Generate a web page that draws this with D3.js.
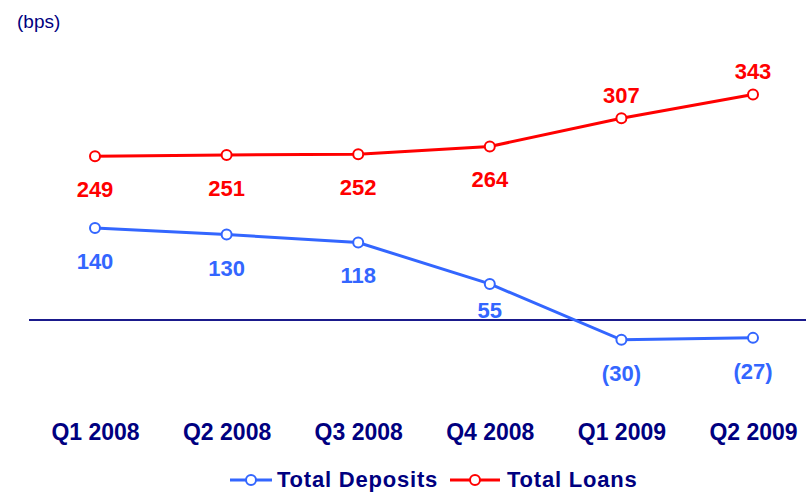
<!DOCTYPE html>
<html>
<head>
<meta charset="utf-8">
<script src="https://cdn.jsdelivr.net/npm/d3@7"></script>
<style>
  body { margin: 0; background: #fff; }
  svg { font-family: "Liberation Sans", Arial, sans-serif; }
</style>
</head>
<body>
<div id="chart"></div>
<script>
var quarters = ["Q1 2008", "Q2 2008", "Q3 2008", "Q4 2008", "Q1 2009", "Q2 2009"];
var deposits = [140, 130, 118, 55, -30, -27];
var loans = [249, 251, 252, 264, 307, 343];
var seriesNames = ["Total Deposits", "Total Loans"];

var navy = "#000080";
var blue = "#3366FF";
var red = "#FF0000";

var svg = d3.select("#chart")
    .append("svg")
    .attr("width", 806)
    .attr("height", 492);

var x = d3.scalePoint().domain(quarters).range([95, 753]);
var y = d3.scaleLinear().domain([-50, 400]).range([353, 57]);

// unit label
svg.append("text")
    .attr("x", 17)
    .attr("y", 28)
    .attr("fill", navy)
    .style("font-size", "19px")
    .text("(bps)");

// zero line
svg.append("line")
    .attr("x1", 29).attr("x2", 806)
    .attr("y1", y(0)).attr("y2", y(0))
    .attr("stroke", "#1a1a8c")
    .attr("stroke-width", 2);

// category labels
var xAxis = svg.append("g")
    .attr("transform", "translate(0,440)")
    .call(d3.axisBottom(x).tickSize(0).tickPadding(0));
xAxis.select(".domain").remove();
xAxis.selectAll("text")
    .attr("dy", 0)
    .attr("fill", navy)
    .style("font-size", "23px")
    .style("font-weight", "bold")
    .style("font-family", "'Liberation Sans', Arial, sans-serif");

function drawSeries(values, color, labelFn, labelY) {
    var line = d3.line()
        .x(function (d, i) { return x(quarters[i]); })
        .y(function (d) { return y(d); });

    svg.append("path")
        .datum(values)
        .attr("d", line)
        .attr("fill", "none")
        .attr("stroke", color)
        .attr("stroke-width", 3);

    svg.selectAll(null)
        .data(values)
        .enter().append("circle")
        .attr("cx", function (d, i) { return x(quarters[i]); })
        .attr("cy", function (d) { return y(d); })
        .attr("r", 5)
        .attr("fill", "#fff")
        .attr("stroke", color)
        .attr("stroke-width", 2);

    svg.selectAll(null)
        .data(values)
        .enter().append("text")
        .attr("x", function (d, i) { return x(quarters[i]); })
        .attr("y", labelY)
        .attr("text-anchor", "middle")
        .attr("fill", color)
        .style("font-size", "22px")
        .style("font-weight", "bold")
        .text(labelFn);
}

function fmt(d) {
    return d < 0 ? "(" + Math.abs(d) + ")" : d;
}

drawSeries(deposits, blue, fmt, function (d, i) {
    // label sits close above the zero line for the 55 point
    return y(d) + (i === 3 ? 34 : 41);
});
drawSeries(loans, red, fmt, function (d, i) {
    return i >= 4 ? y(d) - 15 : y(d) + 41;
});

// legend
var legend = svg.append("g").attr("transform", "translate(0,480)");
var legendItems = [
    { name: seriesNames[0], color: blue, x0: 230, x1: 272, tx: 277 },
    { name: seriesNames[1], color: red, x0: 450, x1: 500, tx: 507 }
];
legendItems.forEach(function (it) {
    legend.append("line")
        .attr("x1", it.x0).attr("x2", it.x1)
        .attr("y1", 0).attr("y2", 0)
        .attr("stroke", it.color)
        .attr("stroke-width", 3);
    legend.append("circle")
        .attr("cx", (it.x0 + it.x1) / 2)
        .attr("cy", 0)
        .attr("r", 5)
        .attr("fill", "#fff")
        .attr("stroke", it.color)
        .attr("stroke-width", 2);
    legend.append("text")
        .attr("x", it.tx)
        .attr("y", 7)
        .attr("fill", navy)
        .style("font-size", "22px")
        .style("font-weight", "bold")
        .style("letter-spacing", "0.8px")
        .text(it.name);
});
</script>
</body>
</html>
